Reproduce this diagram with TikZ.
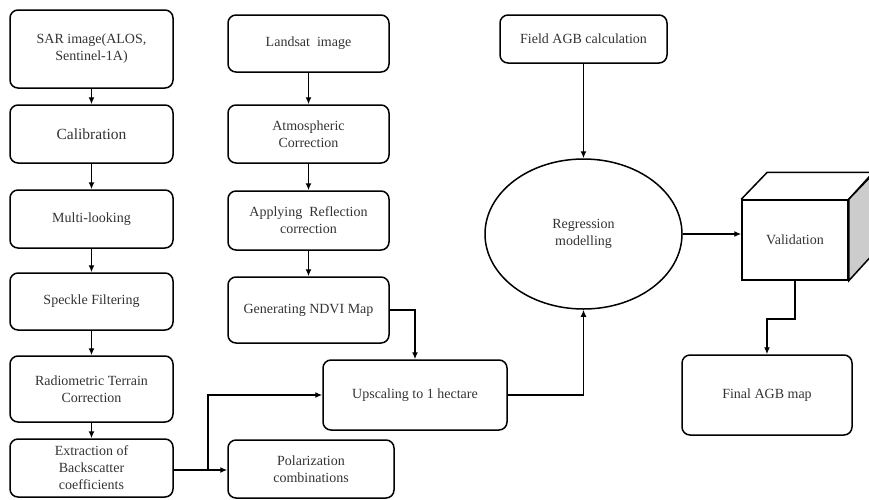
\documentclass[tikz,border=0pt]{standalone}
\usepackage{fontspec}
\setmainfont{Liberation Serif}
\usetikzlibrary{arrows.meta,shapes.geometric}

\begin{document}
\begin{tikzpicture}[x=1pt, y=-1pt, line width=1.5pt,
    box/.style={draw, rounded corners=8pt, align=center, inner sep=2pt,
      node font=\fontsize{14}{17}\selectfont, text=black!80},
    flow/.style={-{Latex[length=7pt,width=6pt]}}]

    \clip (0,0) rectangle (869,499);

    \node[box, minimum width=163pt, minimum height=78pt] (sar) at (91.5,49) {SAR image(ALOS,\\Sentinel-1A)};
    \node[box, minimum width=163pt, minimum height=58pt, node font=\fontsize{15.5}{18}\selectfont] (calib) at (91.5,134) {Calibration};
    \node[box, minimum width=163pt, minimum height=58pt] (multi) at (91.5,219) {Multi-looking};
    \node[box, minimum width=163pt, minimum height=57pt] (speckle) at (91.5,301.5) {Speckle Filtering};
    \node[box, minimum width=163pt, minimum height=66pt] (terrain) at (91.5,389) {Radiometric Terrain\\Correction};
    \node[box, minimum width=163pt, minimum height=58pt] (extract) at (91.5,468) {Extraction of\\Backscatter\\coefficients};

    \node[box, minimum width=161pt, minimum height=57pt] (landsat) at (308.5,43.5) {Landsat~~image};
    \node[box, minimum width=161pt, minimum height=58pt] (atmos) at (308.5,134) {Atmospheric\\Correction};
    \node[box, minimum width=161pt, minimum height=59pt] (reflect) at (308.5,220.5) {Applying~ Reflection\\correction};
    \node[box, minimum width=161pt, minimum height=66pt] (ndvi) at (308.5,310) {Generating NDVI Map};
    \node[box, minimum width=166pt, minimum height=58pt] (polar) at (311,469) {Polarization\\combinations};

    \node[box, minimum width=184pt, minimum height=70pt] (upscale) at (415,395) {Upscaling to 1 hectare};
    \node[box, minimum width=167pt, minimum height=48pt] (field) at (583.5,39) {Field AGB calculation};
    \node[box, ellipse, rounded corners=0pt, inner sep=0pt, minimum width=197pt, minimum height=150pt] (regress) at (583.5,234) {Regression\\modelling};
    \node[box, rounded corners=0pt, minimum width=106pt, minimum height=80pt] (valid) at (795,240) {Validation};
    \node[box, minimum width=170pt, minimum height=80pt] (final) at (767,395) {Final AGB map};

    \draw (valid.north west) -- ++(26,-27) -- ++(106,0) -- (valid.north east);
    \filldraw[fill=gray!40] (valid.north east) -- ++(26,-27) -- ++(0,80) -- (valid.south east) -- cycle;

    \draw[flow] (sar) -- (calib);
    \draw[flow] (calib) -- (multi);
    \draw[flow] (multi) -- (speckle);
    \draw[flow] (speckle) -- (terrain);
    \draw[flow] (terrain) -- (extract);

    \draw[flow] (landsat) -- (atmos);
    \draw[flow] (atmos) -- (reflect);
    \draw[flow] (reflect) -- (ndvi);

    \coordinate (split) at (208,470);
    \draw[flow] (extract.east |- split) -- (split -| polar.west);
    \draw[flow] (split) |- (upscale.west);
    \draw[flow] (ndvi.east) -| (upscale.north);
    \draw[flow] (upscale.east) -| (regress.south);
    \draw[flow] (field) -- (regress);
    \draw[flow] (regress.east) -- (regress.east -| valid.west);
    \draw[flow] (valid.south) -- ++(0,38) -| (final.north);

\end{tikzpicture}
\end{document}
